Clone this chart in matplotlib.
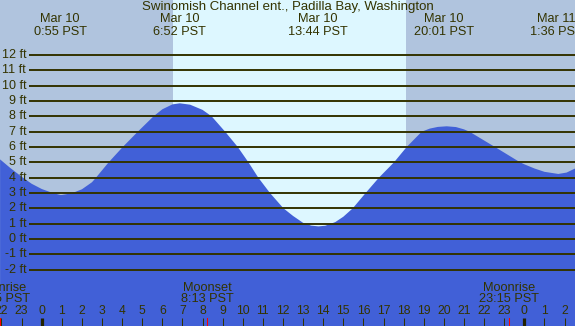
import matplotlib
matplotlib.use("Agg")
import matplotlib.pyplot as plt

# ---------------- data ----------------
title = "Swinomish Channel ent., Padilla Bay, Washington"

# tide curve (hours since Mar 10 00:00, feet)
tide_hours = [-2.07, -1.58, -1.0, -0.5, 0.0, 0.5, 0.92, 1.0, 1.5, 2.0, 2.5, 2.7,
              3.33, 4.03, 4.78, 5.56, 6.0, 6.5, 6.87, 7.38, 8.0, 8.45, 9.12, 9.75,
              10.28, 10.77, 11.35, 12.02, 12.5, 13.0, 13.4, 13.76, 14.1, 14.6,
              15.0, 15.47, 16.11, 16.77, 17.52, 18.15, 18.9, 19.3, 19.7, 20.14,
              20.6, 21.0, 21.27, 22.54, 23.79, 24.0, 24.5, 25.0, 25.69, 26.1, 26.53]
tide_feet = [5.19, 4.65, 4.06, 3.6, 3.26, 3.02, 2.87, 2.87, 2.98, 3.24, 3.7, 4.0,
             5.0, 6.0, 7.0, 8.0, 8.46, 8.78, 8.85, 8.76, 8.42, 8.0, 7.0, 6.0,
             5.0, 4.0, 3.0, 2.0, 1.5, 1.05, 0.87, 0.82, 0.86, 1.1,
             1.45, 2.0, 3.0, 4.0, 5.0, 6.0, 7.0, 7.2, 7.31, 7.35,
             7.3, 7.15, 7.0, 6.0, 5.0, 4.87, 4.6, 4.38, 4.24, 4.33, 4.6]

# high / low labels
ext_dates = ["Mar 10", "Mar 10", "Mar 10", "Mar 10", "Mar 11"]
ext_times = ["0:55", "6:52", "13:44", "20:01", "1:36"]
ext_day = [0, 0, 0, 0, 1]

# moon events
moon_names = ["Moonrise", "Moonset", "Moonrise"]
moon_times = ["21:55", "8:13", "23:15"]
moon_day = [-1, 0, 0]

# sun
sunrise = "6:31"
sunset = "18:07"

ft_levels = list(range(-2, 13))
hour_ticks = list(range(-2, 27))
hour_labels = [str(h % 24) for h in hour_ticks]

# ---------------- helpers ----------------
def to_h(t, day=0):
    hh, mm = t.split(":")
    return int(hh) + int(mm) / 60.0 + 24 * day

# ---------------- style ----------------
W, H = 575, 326
NIGHT = "#b0c4de"
DAY = "#ddf7ff"
WATER = "#4160d7"
LINE = "#333300"
TXT = "#333300"
FONT = "Liberation Sans"

x_left, x_right = -2.074, 26.52
y_bot, y_top = -5.68, 15.59

fig = plt.figure(figsize=(W / 100, H / 100), dpi=100)
ax = fig.add_axes([0, 0, 1, 1])
ax.set_xlim(x_left, x_right)
ax.set_ylim(y_bot, y_top)
ax.axis("off")

sr = to_h(sunrise)
ss = to_h(sunset)
ax.axvspan(x_left, sr, color=NIGHT, lw=0, zorder=0)
ax.axvspan(sr, ss, color=DAY, lw=0, zorder=0)
ax.axvspan(ss, x_right, color=NIGHT, lw=0, zorder=0)

ax.fill_between(tide_hours, tide_feet, y_bot, color=WATER, lw=0, zorder=1)

# grid lines
x_grid0 = -0.63
for f in ft_levels:
    ax.plot([x_grid0, x_right], [f, f], color=LINE, lw=1.4, zorder=2,
            solid_capstyle="butt")
    ax.text(-0.77, f, f"{f} ft", ha="right", va="center", fontsize=9,
            family=FONT, color=TXT, zorder=3)

xt = ax.get_xaxis_transform()

# title
ax.text(0.5, 1 - 7 / H, title, transform=ax.transAxes, ha="center",
        va="center", fontsize=9.5, family=FONT, color=TXT)

# high/low labels
for d, t, k in zip(ext_dates, ext_times, ext_day):
    x = to_h(t, k)
    ax.text(x, 1 - 19 / H, d, transform=xt, ha="center", va="center",
            fontsize=9.2, family=FONT, color=TXT)
    ax.text(x, 1 - 32 / H, f"{t} PST", transform=xt, ha="center",
            va="center", fontsize=9.2, family=FONT, color=TXT)

# moon labels
for n, t, k in zip(moon_names, moon_times, moon_day):
    x = to_h(t, k)
    ax.text(x, 1 - 287.7 / H, n, transform=xt, ha="center", va="center",
            fontsize=9.2, family=FONT, color=TXT)
    ax.text(x, 1 - 299.3 / H, f"{t} PST", transform=xt, ha="center",
            va="center", fontsize=9.2, family=FONT, color=TXT)
    ax.plot([x, x], [0, 8 / H], transform=xt, color="red", lw=0.75, zorder=4)

# hour ticks and labels
for h, lab in zip(hour_ticks, hour_labels):
    thick = (h % 24 == 0)
    ax.plot([h, h], [0, 8 / H], transform=xt, color="#222200" if thick else LINE,
            lw=2.3 if thick else 0.75, zorder=4, solid_capstyle="butt")
    ax.text(h, 1 - 311.3 / H, lab, transform=xt, ha="center", va="center",
            fontsize=8.7, family=FONT, color=TXT)

fig.savefig("out.png", dpi=100)
